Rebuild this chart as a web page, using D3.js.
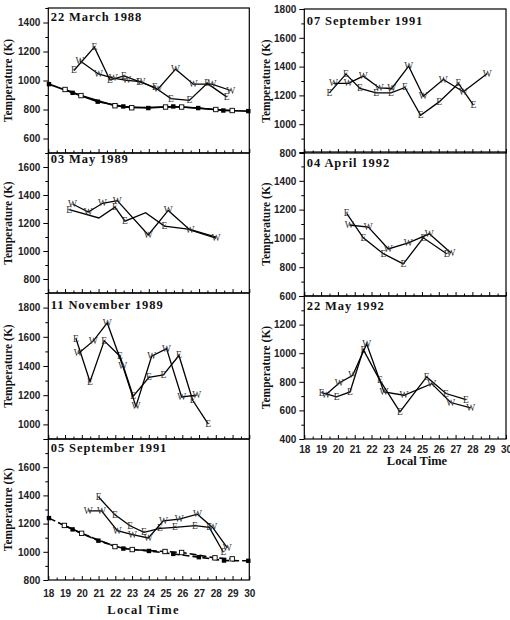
<!DOCTYPE html>
<html>
<head>
<meta charset="utf-8">
<script src="https://cdn.jsdelivr.net/npm/d3@7"></script>
<style>
  body { margin: 0; background: #fff; }
</style>
</head>
<body>
<div id="chart"></div>
<script>
// local time in hours (24 = midnight), temperature in K
// each point: [time, temperature] (optional third item = marker label override)
const hours = d3.range(18, 31);

const mar88E = [[19.53,1069],[20.75,1230],[21.68,1003],[22.52,1032],[23.43,992],[24.37,952],[25.32,875],[26.42,863],[27.49,980],[28.65,887]];
const mar88W = [[19.89,1136],[20.99,1045],[21.88,1017],[22.68,1001],[23.53,992],[24.53,938],[25.6,1078],[26.66,975],[27.77,975],[28.89,931]];
const mar88ModelFilled = [[18.04,975],[19.45,915],[20.95,854],[22.48,821],[23.97,810],[25.46,821],[26.95,810],[28.45,793],[29.94,789]];
const mar88ModelOpen = [[19.0,938],[19.95,896],[21.98,826],[22.98,812],[25.0,817],[25.96,817],[28.0,800],[28.98,793]];

const may89E = [[19.25,1295],[21.02,1236,""],[21.98,1313],[22.58,1213],[23.81,1274,""],[24.93,1178],[26.46,1155,""],[28.01,1099,""]];
const may89W = [[19.45,1336],[20.39,1278],[21.24,1341],[22.12,1360],[23.97,1115],[25.16,1290],[26.46,1150],[28.01,1092]];

const nov89E = [[19.65,1588],[20.49,1293],[21.34,1572],[22.28,1467],[23.07,1193],[24.01,1323],[24.87,1339],[25.8,1472],[26.62,1165],[27.55,1002]];
const nov89W = [[19.79,1486],[20.69,1572],[21.52,1695],[22.44,1402],[23.23,1123],[24.17,1467],[25.06,1519],[25.96,1188],[26.86,1200]];

const sep05E = [[21.0,1389],[21.98,1262],[22.88,1185],[23.71,1138],[24.67,1166],[25.56,1173],[26.76,1185],[27.61,1173],[28.45,997]];
const sep05W = [[20.39,1290],[21.18,1290],[22.12,1150],[23.03,1121],[23.97,1098],[24.87,1220],[25.82,1232],[26.9,1267],[27.81,1173],[28.69,1028]];
const sep05ModelFilled = [[18.04,1239],[19.45,1159],[20.99,1079],[22.48,1023],[24.01,1006],[25.46,985],[26.99,962],[28.49,938],[29.94,936]];
const sep05ModelOpen = [[18.96,1187],[19.99,1131],[21.98,1037],[23.01,1016],[24.97,1002],[25.96,995],[27.95,957],[28.98,950]];

const sep07E = [[19.49,1218],[20.48,1348],[21.31,1248],[22.27,1218],[23.16,1218],[23.99,1255],[24.92,1062],[26.02,1155],[27.17,1283],[28.06,1132]];
const sep07W = [[19.73,1283],[20.62,1283],[21.51,1334],[22.46,1252],[23.2,1248],[24.21,1403],[25.08,1194],[26.27,1310],[27.46,1225],[28.89,1352]];

const apr92E = [[20.52,1173],[21.51,1004],[22.7,894],[23.89,823],[25.08,1004],[26.47,894]];
const apr92W = [[20.68,1093],[21.81,1079],[23.0,927],[24.19,969],[25.44,1032],[26.73,898]];

const may92E = [[19.03,725],[19.92,695],[20.72,729],[21.51,1024],[22.5,810],[23.69,590],[25.28,834],[26.43,718],[27.62,676]];
const may92W = [[19.29,711],[20.08,792],[20.88,845],[21.71,1065],[22.74,729],[23.93,706],[25.58,787],[26.71,655],[27.9,618]];

// tick labels shown on each panel's y axis
const mar88Ticks = [600, 800, 1000, 1200, 1400];
const may89Ticks = [800, 1000, 1200, 1400, 1600];
const nov89Ticks = [1000, 1200, 1400, 1600, 1800];
const sep05Ticks = [800, 1000, 1200, 1400, 1600];
const sep07Ticks = [800, 1000, 1200, 1400, 1600, 1800];
const apr92Ticks = [600, 800, 1000, 1200, 1400];
const may92Ticks = [400, 600, 800, 1000, 1200];

// layout
const leftCol = { x0: 48.3, x1: 249.3, labelX: 8, xPad: 10, xTitleY: 614, xTitleSpacing: 1.2, xTitleX: 143.5 };
const rightCol = { x0: 304.3, x1: 506, labelX: 266, xPad: 7, xTitleY: 465, xTitleSpacing: 0, xTitleX: 417 };

const panels = [
  { col: leftCol, top: 8, bottom: 153, domain: [500, 1500], ticks: mar88Ticks, title: "22 March 1988", tdy: 13,
    E: mar88E, W: mar88W, filled: mar88ModelFilled, open: mar88ModelOpen, dash: null },
  { col: leftCol, top: 153, bottom: 293, domain: [700, 1700], ticks: may89Ticks, title: "03 May 1989", tdy: 10 ,
    E: may89E, W: may89W },
  { col: leftCol, top: 293, bottom: 439, domain: [900, 1900], ticks: nov89Ticks, title: "11 November 1989", tdy: 16,
    E: nov89E, W: nov89W },
  { col: leftCol, top: 439, bottom: 580, domain: [800, 1800], ticks: sep05Ticks, title: "05 September 1991", tdy: 13,
    E: sep05E, W: sep05W, filled: sep05ModelFilled, open: sep05ModelOpen, dash: "7,3", xLabels: true },
  { col: rightCol, top: 9, bottom: 153, domain: [800, 1800], ticks: sep07Ticks, title: "07 September 1991", tdy: 16,
    E: sep07E, W: sep07W },
  { col: rightCol, top: 152, bottom: 296, domain: [600, 1600], ticks: apr92Ticks, title: "04 April 1992", tdy: 15,
    E: apr92E, W: apr92W },
  { col: rightCol, top: 296, bottom: 439, domain: [400, 1400], ticks: may92Ticks, title: "22 May 1992", tdy: 14,
    E: may92E, W: may92W, xLabels: true }
];

const svg = d3.select("#chart").append("svg")
  .attr("width", 510)
  .attr("height", 620);

const sansBold = "'Liberation Sans', Arial, sans-serif";
const serif = "'Liberation Serif', 'Times New Roman', serif";

let drawPanel = function(p) {
  const x = d3.scaleLinear().domain([18, 30]).range([p.col.x0, p.col.x1]);
  const y = d3.scaleLinear().domain(p.domain).range([p.bottom, p.top]);
  const g = svg.append("g");

  // y axis: major every 200, minor every 100
  const majors = d3.range(Math.ceil(p.domain[0] / 200) * 200, p.domain[1] + 1, 200);
  const minors = d3.range(p.domain[0], p.domain[1] + 1, 100).filter(v => v % 200 !== 0);

  const yAx = g.append("g")
    .attr("transform", `translate(${p.col.x0},0)`)
    .call(d3.axisLeft(y).tickValues(majors).tickSize(5).tickPadding(3)
      .tickFormat(d => p.ticks.includes(d) ? d : ""));
  yAx.select(".domain").remove();
  yAx.selectAll("text")
    .style("font-family", sansBold).style("font-weight", "bold")
    .style("font-size", "10px").attr("fill", "#222");

  g.append("g")
    .attr("transform", `translate(${p.col.x0},0)`)
    .call(d3.axisLeft(y).tickValues(minors).tickSize(3).tickFormat(""))
    .select(".domain").remove();

  // x axis along the bottom, ticks pointing up
  const xAx = g.append("g")
    .attr("transform", `translate(0,${p.bottom})`)
    .call(d3.axisBottom(x).tickValues(hours).tickSize(-4).tickPadding(p.col.xPad)
      .tickFormat(p.xLabels ? d3.format("d") : ""));
  xAx.select(".domain").remove();
  xAx.selectAll("text")
    .style("font-family", sansBold).style("font-weight", "bold")
    .style("font-size", "10px").attr("fill", "#222");

  g.append("g")
    .attr("transform", `translate(0,${p.bottom})`)
    .call(d3.axisBottom(x).tickValues(d3.range(18.5, 30, 1)).tickSize(-2.5).tickFormat(""))
    .select(".domain").remove();

  // frame
  g.append("rect")
    .attr("x", p.col.x0).attr("y", p.top)
    .attr("width", p.col.x1 - p.col.x0).attr("height", p.bottom - p.top)
    .attr("fill", "none").attr("stroke", "#000").attr("stroke-width", 1.2);

  // title
  g.append("text")
    .attr("x", p.col.x0 + 2.5).attr("y", p.top + p.tdy)
    .attr("font-family", serif).attr("font-weight", "bold")
    .attr("font-size", "12.5px").attr("letter-spacing", "0.9px")
    .attr("fill", "#111")
    .text(p.title);

  // y label
  g.append("text")
    .attr("transform", `translate(${p.col.labelX},${(p.top + p.bottom) / 2}) rotate(-90)`)
    .attr("text-anchor", "middle").attr("dominant-baseline", "central")
    .attr("font-family", serif).attr("font-weight", "bold")
    .attr("font-size", "11.5px").attr("fill", "#111")
    .text("Temperature (K)");

  const line = d3.line().x(d => x(d[0])).y(d => y(d[1]));

  // model curves
  if (p.filled) {
    [p.filled, p.open].forEach(s => {
      g.append("path")
        .attr("d", line(s))
        .attr("fill", "none").attr("stroke", "#000").attr("stroke-width", 1.6)
        .attr("stroke-dasharray", p.dash);
    });
    g.selectAll(".sqf").data(p.filled).enter().append("rect")
      .attr("x", d => x(d[0]) - 2.2).attr("y", d => y(d[1]) - 2.2)
      .attr("width", 4.4).attr("height", 4.4).attr("fill", "#000");
    g.selectAll(".sqo").data(p.open).enter().append("rect")
      .attr("x", d => x(d[0]) - 2.2).attr("y", d => y(d[1]) - 2.2)
      .attr("width", 4.4).attr("height", 4.4)
      .attr("fill", "#fff").attr("stroke", "#000").attr("stroke-width", 0.9);
  }

  // observed series, E and W
  [["E", p.E], ["W", p.W]].forEach(([name, s]) => {
    g.append("path")
      .attr("d", line(s))
      .attr("fill", "none").attr("stroke", "#000").attr("stroke-width", 1.3);
    g.selectAll(".m" + name).data(s).enter().append("text")
      .attr("x", d => x(d[0])).attr("y", d => y(d[1]))
      .attr("text-anchor", "middle").attr("dominant-baseline", "central")
      .attr("font-family", serif).attr("font-size", "9.5px").attr("fill", "#333")
      .text(d => d.length > 2 ? d[2] : name);
  });

  // x title
  if (p.xLabels) {
    svg.append("text")
      .attr("x", p.col.xTitleX).attr("y", p.col.xTitleY)
      .attr("text-anchor", "middle")
      .attr("font-family", serif).attr("font-weight", "bold")
      .attr("font-size", "12.5px").attr("letter-spacing", p.col.xTitleSpacing + "px")
      .attr("fill", "#111")
      .text("Local Time");
  }
};

panels.forEach(drawPanel);
</script>
</body>
</html>
